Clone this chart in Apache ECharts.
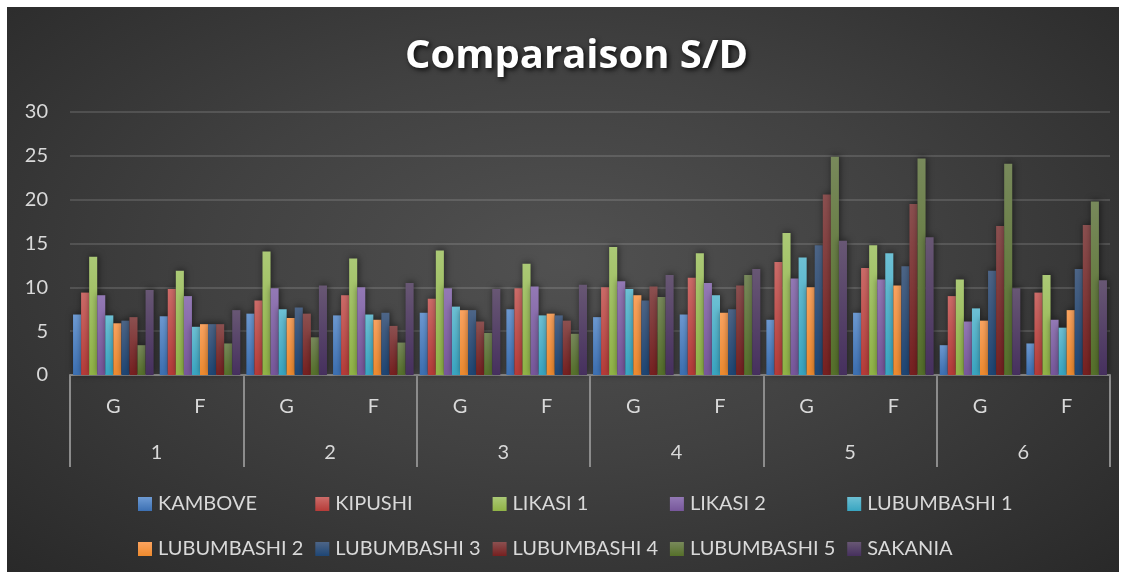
<!DOCTYPE html>
<html>
<head>
<meta charset="utf-8">
<script src="https://cdn.jsdelivr.net/npm/echarts@6/dist/echarts.min.js"></script>
<style>
  html, body { margin: 0; padding: 0; background: #fff; }
  #main {
    position: absolute; left: 7px; top: 7px; width: 1112px; height: 565px;
    background: radial-gradient(ellipse at 50% 45%, #515151 0%, #414141 45%, #292929 100%);
  }
</style>
</head>
<body>
<div id="main"></div>
<script>
const subLabels = ['G', 'F', 'G', 'F', 'G', 'F', 'G', 'F', 'G', 'F', 'G', 'F'];
const groupLabels = ['1', '2', '3', '4', '5', '6'];
const seriesNames = ['KAMBOVE', 'KIPUSHI', 'LIKASI 1', 'LIKASI 2', 'LUBUMBASHI 1',
    'LUBUMBASHI 2', 'LUBUMBASHI 3', 'LUBUMBASHI 4', 'LUBUMBASHI 5', 'SAKANIA'];

const kambove = [6.9, 6.7, 7.0, 6.8, 7.1, 7.5, 6.6, 6.9, 6.3, 7.1, 3.4, 3.6];
const kipushi = [9.4, 9.8, 8.5, 9.1, 8.7, 9.9, 10.0, 11.1, 12.9, 12.2, 9.0, 9.4];
const likasi1 = [13.5, 11.9, 14.1, 13.3, 14.2, 12.7, 14.6, 13.9, 16.2, 14.8, 10.9, 11.4];
const likasi2 = [9.1, 9.0, 9.9, 10.0, 9.9, 10.1, 10.7, 10.5, 11.0, 10.9, 6.1, 6.3];
const lubumbashi1 = [6.8, 5.5, 7.5, 6.9, 7.8, 6.8, 9.8, 9.1, 13.4, 13.9, 7.6, 5.4];
const lubumbashi2 = [5.9, 5.8, 6.5, 6.3, 7.4, 7.0, 9.1, 7.1, 10.0, 10.2, 6.2, 7.4];
const lubumbashi3 = [6.2, 5.8, 7.7, 7.1, 7.4, 6.8, 8.5, 7.5, 14.8, 12.4, 11.9, 12.1];
const lubumbashi4 = [6.6, 5.8, 7.0, 5.6, 6.1, 6.2, 10.1, 10.2, 20.6, 19.5, 17.0, 17.1];
const lubumbashi5 = [3.4, 3.6, 4.3, 3.7, 4.8, 4.7, 8.9, 11.4, 24.9, 24.7, 24.1, 19.8];
const sakania = [9.7, 7.4, 10.2, 10.5, 9.8, 10.3, 11.4, 12.1, 15.3, 15.7, 9.9, 10.8];

const seriesValues = [kambove, kipushi, likasi1, likasi2, lubumbashi1,
    lubumbashi2, lubumbashi3, lubumbashi4, lubumbashi5, sakania];

// top / bottom colours of the bar gradients
const colorTops = ['#6e9bd4', '#cd6c69', '#abc976', '#9379b5', '#6dc0d4',
    '#fba35f', '#4d6587', '#8b5050', '#78895b', '#685774'];
const colorBottoms = ['#3c70b3', '#b63b38', '#90b346', '#77579b', '#38a5c1',
    '#ee8a2e', '#1e4675', '#772020', '#55702a', '#46305e'];

const chart = echarts.init(document.getElementById('main'));
const font = 'Lato, "Open Sans", sans-serif';
const textColor = '#d9d9d9';

function gradient(i) {
    return new echarts.graphic.LinearGradient(0, 0, 0, 1, [
        { offset: 0, color: colorTops[i] },
        { offset: 1, color: colorBottoms[i] }
    ]);
}

function getLegends() {
    return seriesNames.map((name, i) => ({
        data: [name],
        left: 126 + (i % 5) * 177.3,
        top: i < 5 ? 482 : 527,
        itemWidth: 14,
        itemHeight: 14,
        icon: 'rect',
        selectedMode: false,
        textStyle: { color: textColor, fontSize: 20, fontFamily: font, padding: [0, 0, 0, 1] }
    }));
}

function getSeries() {
    return seriesNames.map((name, i) => ({
        name: name,
        type: 'bar',
        barGap: '0%',
        barCategoryGap: '7%',
        itemStyle: {
            color: gradient(i),
            shadowColor: 'rgba(0,0,0,0.55)',
            shadowBlur: 7,
            shadowOffsetX: 1,
            shadowOffsetY: -1
        },
        emphasis: { disabled: true },
        data: seriesValues[i]
    }));
}

chart.setOption({
    backgroundColor: 'transparent',
    animation: false,
    title: {
        text: 'Comparaison S/D',
        left: 393,
        top: 25,
        textStyle: {
            color: '#ffffff',
            fontSize: 40,
            fontWeight: 'bold',
            fontFamily: '"Open Sans", sans-serif',
            textShadowColor: 'rgba(0,0,0,0.8)',
            textShadowBlur: 5,
            textShadowOffsetX: 2,
            textShadowOffsetY: 2
        }
    },
    legend: getLegends(),
    grid: { left: 63, right: 9, top: 105, bottom: 197 },
    xAxis: [
        {
            type: 'category',
            data: subLabels,
            axisLine: { lineStyle: { color: '#8c8c8c', width: 2 } },
            axisTick: { show: false },
            axisLabel: { color: textColor, fontSize: 20, fontFamily: font, margin: 22 },
            splitLine: { show: false }
        },
        {
            type: 'category',
            data: groupLabels,
            position: 'bottom',
            axisLine: { show: false },
            axisTick: { show: true, length: 92, lineStyle: { color: '#8c8c8c', width: 2 } },
            axisLabel: { color: textColor, fontSize: 20, fontFamily: font, margin: 68 },
            splitLine: { show: false }
        }
    ],
    yAxis: {
        type: 'value',
        min: 0,
        max: 30,
        interval: 5,
        axisLine: { show: false },
        axisTick: { show: false },
        axisLabel: { color: textColor, fontSize: 20, fontFamily: font, margin: 22 },
        splitLine: { lineStyle: { color: 'rgba(255,255,255,0.13)', width: 2 } }
    },
    series: getSeries()
});

window.addEventListener('resize', () => {
    chart.resize();
});
</script>
</body>
</html>
